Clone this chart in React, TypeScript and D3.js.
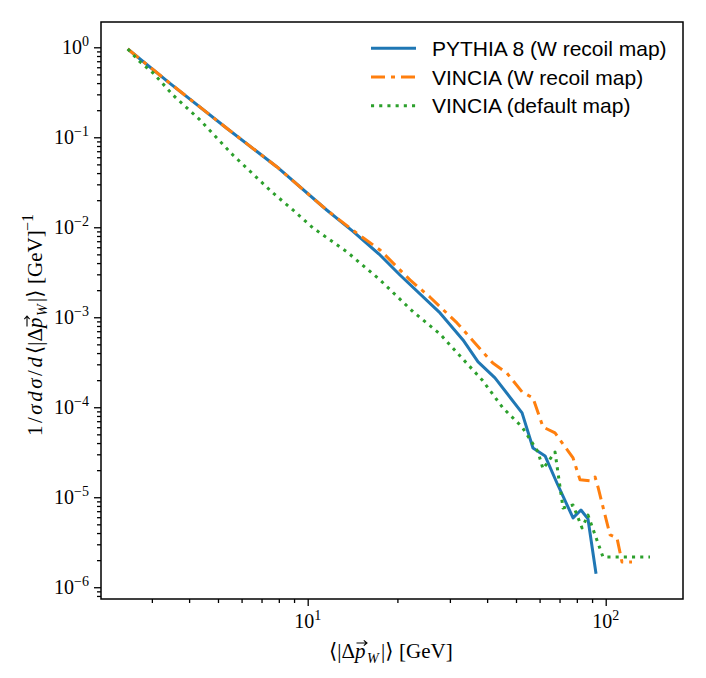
import { useEffect, useRef } from 'react';
import * as d3 from 'd3';

// values (log-log)
const pythiaX = [2.49, 3.45, 5.35, 7.87, 11.58, 14.22, 17.48, 20.4, 27.8, 33.2, 37.3, 42.5, 52.4, 57.0, 62.6, 68.6, 77.7, 82.6, 87.2, 92.8];
const pythiaY = [0.957, 0.398, 0.126, 0.0471, 0.01556, 0.00893, 0.00492, 0.00295, 0.001117, 0.00056, 0.000319, 0.000212, 8.65e-5, 3.53e-5, 2.88e-5, 1.44e-5, 5.89e-6, 7.22e-6, 5.74e-6, 1.41e-6];

const vinciaWX = [2.49, 3.45, 5.35, 7.87, 11.58, 14.22, 17.48, 22.04, 25.7, 31.7, 38.7, 41.8, 46.6, 52.4, 57.0, 61.6, 67.6, 77.7, 82.0, 88.6, 92.1, 94.2, 103.4, 109.1, 113.4, 122.5];
const vinciaWY = [0.957, 0.398, 0.126, 0.0471, 0.01556, 0.0092, 0.0056, 0.0026, 0.00168, 0.000865, 0.000411, 0.00031, 0.00024, 0.000148, 0.000127, 6.04e-5, 5.18e-5, 2.73e-5, 1.56e-5, 1.52e-5, 1.68e-5, 1.3e-5, 3.81e-6, 3.53e-6, 1.91e-6, 1.91e-6];

const vinciaDefX = [2.49, 2.74, 3.03, 3.53, 4.35, 5.61, 7.65, 8.93, 10.42, 13.55, 17.48, 22.6, 27.8, 32.9, 38.5, 45.2, 52.4, 59.3, 61.6, 67.6, 71.9, 77.7, 83.3, 87.2, 97.9, 140.8];
const vinciaDefY = [0.957, 0.687, 0.518, 0.295, 0.1557, 0.0636, 0.024, 0.01556, 0.00982, 0.00532, 0.0026, 0.001146, 0.000652, 0.000353, 0.000201, 9.82e-5, 6.04e-5, 3.18e-5, 2.06e-5, 3.18e-5, 7.6e-6, 8.2e-6, 4.56e-6, 6.35e-6, 2.17e-6, 2.17e-6];

const seriesNames = ['PYTHIA 8 (W recoil map)', 'VINCIA (W recoil map)', 'VINCIA (default map)'];
const seriesColors = ['#1f77b4', '#ff7f0e', '#2ca02c'];
const seriesDashes = ['none', '14,6,4,6', '3.1,5.1'];

const xMajorExp = [1, 2];
const yMajorExp = [0, -1, -2, -3, -4, -5, -6];

type Run = { t: string; it?: boolean; size?: number; x?: number; dy?: number; ls?: number };

function addRuns(text: d3.Selection<SVGTextElement, unknown, null, undefined>, runs: Run[]) {
  runs.forEach(r => {
    const ts = text.append('tspan').text(r.t);
    if (r.it) ts.attr('font-style', 'italic');
    if (r.size) ts.attr('font-size', r.size);
    if (r.x !== undefined) ts.attr('x', r.x);
    if (r.dy) ts.attr('dy', r.dy);
    if (r.ls) ts.attr('letter-spacing', r.ls);
  });
}

// small vector arrow drawn over the p
function arrow(g: d3.Selection<any, unknown, null, undefined>, x0: number, x1: number, yy: number) {
  g.append('path')
    .attr('d', `M${x0},${yy}L${x1},${yy}M${x1 - 3.2},${yy - 2.6}L${x1},${yy}L${x1 - 3.2},${yy + 2.6}`)
    .attr('fill', 'none').attr('stroke', '#000').attr('stroke-width', 1.1);
}

export default function App() {
  const ref = useRef<SVGSVGElement>(null);

  useEffect(() => {
    if (!ref.current) return;
    const svg = d3.select(ref.current);
    svg.selectAll('*').remove();

    const left = 101, right = 683, top = 22, bottom = 599;
    const serif = "'Liberation Serif', 'DejaVu Serif', serif";

    const x = d3.scaleLog().domain([2.025, 181.7]).range([left, right]);
    const y = d3.scaleLog().domain([7.4e-7, 1.91]).range([bottom, top]);

    const xMajor = xMajorExp.map(e => Math.pow(10, e));
    const yMajor = yMajorExp.map(e => Math.pow(10, e));
    const isMajor = (v: number) => Math.abs(Math.log10(v) - Math.round(Math.log10(v))) < 1e-9;
    const xMinor = x.ticks().filter(v => !isMajor(v));
    const yMinor = y.ticks().filter(v => !isMajor(v));

    // ticks (outward, labels drawn separately)
    const tickAxis = (axis: d3.Axis<number>, tx: string) => {
      const g = svg.append('g').attr('transform', tx).call(axis as any);
      g.select('.domain').remove();
      g.selectAll('line').attr('stroke', '#000').attr('stroke-width', 1.3);
      g.selectAll('text').remove();
    };
    tickAxis(d3.axisBottom(x).tickValues(xMajor).tickSize(7).tickFormat(() => ''), `translate(0,${bottom})`);
    tickAxis(d3.axisBottom(x).tickValues(xMinor).tickSize(4).tickFormat(() => ''), `translate(0,${bottom})`);
    tickAxis(d3.axisLeft(y).tickValues(yMajor).tickSize(7).tickFormat(() => ''), `translate(${left},0)`);
    tickAxis(d3.axisLeft(y).tickValues(yMinor).tickSize(4).tickFormat(() => ''), `translate(${left},0)`);

    // tick labels 10^n
    xMajorExp.forEach(e => {
      const t = svg.append('text')
        .attr('x', x(Math.pow(10, e)))
        .attr('y', bottom + 29)
        .attr('text-anchor', 'middle')
        .attr('font-family', serif)
        .attr('font-size', 20);
      addRuns(t, [{ t: '10' }, { t: String(e), size: 14, dy: -8 }]);
    });
    yMajorExp.forEach(e => {
      const t = svg.append('text')
        .attr('x', left - 12)
        .attr('y', y(Math.pow(10, e)) + 7)
        .attr('text-anchor', 'end')
        .attr('font-family', serif)
        .attr('font-size', 20);
      addRuns(t, [{ t: '10' }, { t: e < 0 ? '\u2212' + Math.abs(e) : String(e), size: 14, dy: -8 }]);
    });

    // series
    const line = d3.line<[number, number]>().x(d => x(d[0])).y(d => y(d[1]));
    const series: [number, number][][] = [
      pythiaX.map((v, i) => [v, pythiaY[i]]),
      vinciaWX.map((v, i) => [v, vinciaWY[i]]),
      vinciaDefX.map((v, i) => [v, vinciaDefY[i]]),
    ];
    series.forEach((pts, i) => {
      svg.append('path')
        .attr('d', line(pts))
        .attr('fill', 'none')
        .attr('stroke', seriesColors[i])
        .attr('stroke-width', 3)
        .attr('stroke-dasharray', seriesDashes[i])
        .attr('stroke-linejoin', 'round');
    });

    // frame
    svg.append('rect')
      .attr('x', left).attr('y', top)
      .attr('width', right - left).attr('height', bottom - top)
      .attr('fill', 'none').attr('stroke', '#000').attr('stroke-width', 1.5);

    // legend
    const lg = svg.append('g');
    seriesNames.forEach((name, i) => {
      const ly = 48.3 + i * 28.7;
      lg.append('line')
        .attr('x1', 371).attr('x2', 416).attr('y1', ly).attr('y2', ly)
        .attr('stroke', seriesColors[i]).attr('stroke-width', 3)
        .attr('stroke-dasharray', seriesDashes[i]);
      lg.append('text')
        .attr('x', 432).attr('y', ly + 7.5)
        .attr('font-family', "'Liberation Sans', Arial, sans-serif")
        .attr('font-size', 21)
        .text(name);
    });

    // x label, laid out from its left end
    const cx = (left + right) / 2;
    const xg = svg.append('g').attr('transform', `translate(${cx - 63},658)`);
    const xl = xg.append('text').attr('font-family', serif).attr('font-size', 21);
    addRuns(xl, [
      { t: '\u27e8|\u0394', x: 0 },
      { t: 'p', it: true, x: 26 },
      { t: 'W', it: true, size: 14, x: 38, dy: 5 },
      { t: '|\u27e9', x: 52, dy: -5 },
      { t: '[GeV]', x: 70 },
    ]);
    arrow(xg, 27.5, 38, -15);

    // y label, rotated, laid out from its lower end
    const yg = svg.append('g').attr('transform', `translate(42,318) rotate(-90)`);
    const yl = yg.append('text').attr('font-family', serif).attr('font-size', 21);
    addRuns(yl, [
      { t: '1/', x: -118, ls: 2.5 },
      { t: '\u03c3d\u03c3', it: true, ls: 2.5 },
      { t: '/', ls: 2.5 },
      { t: 'd', it: true },
      { t: '\u27e8|\u0394', x: -36 },
      { t: 'p', it: true, x: -10 },
      { t: 'W', it: true, size: 14, x: 2, dy: 5 },
      { t: '|\u27e9', x: 16, dy: -5 },
      { t: '[GeV]', x: 34 },
      { t: '\u22121', size: 16, x: 87, dy: -9 },
    ]);
    arrow(yg, -8.5, 2, -15);
  }, []);

  return (
    <svg
      ref={ref}
      width={706}
      height={678}
      style={{ position: 'absolute', left: 0, top: 0, background: '#fff' }}
    />
  );
}
